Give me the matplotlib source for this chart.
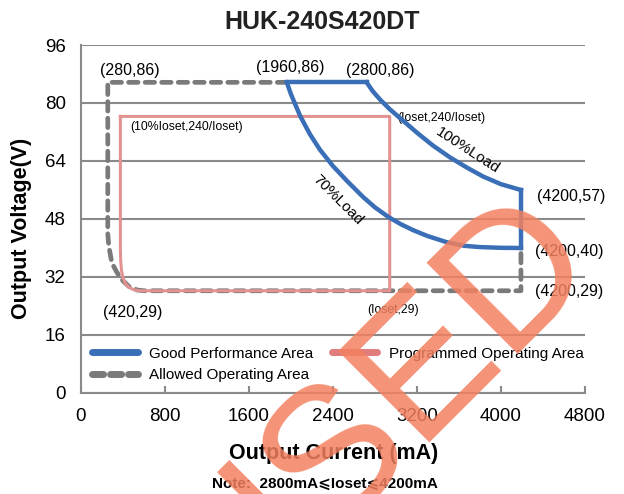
import matplotlib
matplotlib.use("Agg")
import matplotlib.pyplot as plt
from matplotlib.lines import Line2D

plt.rcParams['font.family'] = ['Liberation Sans', 'DejaVu Sans']

# Good performance area (blue): top edge, 100% load curve, right edge, 70% load curve
good_top_i = [1960, 2720]
good_top_v = [85.7, 85.7]
load100_i = [2720, 2780, 2850, 2940, 3020, 3100, 3200, 3350, 3514, 3680, 3831, 4000, 4190]
load100_v = [85.7, 83.2, 80.9, 78.3, 76.3, 74.3, 71.8, 68.3, 65.0, 62.1, 59.7, 57.6, 56.0]
good_right_i = [4190, 4190]
good_right_v = [56.0, 40.0]
load70_i = [1960, 2000, 2086, 2180, 2276, 2400, 2530, 2689, 2800, 2930, 3050, 3165,
            3300, 3483, 3650, 3800, 4000, 4190]
load70_v = [85.7, 82.4, 76.5, 71.4, 67.1, 62.6, 58.6, 54.0, 51.2, 48.5, 46.5, 44.9,
            43.3, 41.6, 40.6, 40.25, 40.05, 40.0]

# Allowed operating area (gray dashed)
allowed_i = [1960, 255, 255, 265, 288, 310, 338, 370, 408, 460, 537, 600, 4190, 4190]
allowed_v = [85.7, 85.7, 44.0, 40.5, 36.8, 35.0, 33.5, 32.0, 30.7, 29.3, 28.4, 28.2, 28.2, 40.0]

# Programmed operating area (pink)
prog_i = [375, 2940, 2940, 560, 500, 455, 420, 398, 385, 378, 375, 375]
prog_v = [76.3, 76.3, 28.2, 28.2, 28.5, 29.2, 30.3, 31.9, 34.0, 36.5, 39.5, 76.3]

x_ticks = [0, 800, 1600, 2400, 3200, 4000, 4800]
y_ticks = [0, 16, 32, 48, 64, 80, 96]

blue = '#3A6FB7'
pink = '#E39292'
gray = '#7A7A7A'
grid = '#8A8A8A'

fig = plt.figure(figsize=(6.24, 4.94), dpi=100)
ax = fig.add_axes([0.1298, 0.2045, 0.8077, 0.7044])

ax.set_xlim(0, 4800)
ax.set_ylim(0, 96)
ax.set_xticks(x_ticks)
ax.set_yticks(y_ticks)
ax.tick_params(axis='x', direction='in', length=5, width=1.5, color=grid,
               labelsize=13.5, pad=11)
ax.tick_params(axis='y', length=0, labelsize=13.5, pad=11)
for s in ['top', 'right']:
    ax.spines[s].set_visible(False)
for s in ['left', 'bottom']:
    ax.spines[s].set_color(grid)
    ax.spines[s].set_linewidth(1.5)
ax.yaxis.grid(True, color=grid, linewidth=1.5)
ax.set_axisbelow(True)

dash = dict(color=gray, lw=3.4, linestyle=(0, (2.0, 1.5)),
            dash_capstyle='round', solid_capstyle='round')
ax.plot(allowed_i, allowed_v, **dash, zorder=2)
ax.plot(prog_i, prog_v, color=pink, lw=2.2, zorder=3)
for xs, ys in [(good_top_i, good_top_v), (load100_i, load100_v),
               (good_right_i, good_right_v), (load70_i, load70_v)]:
    ax.plot(xs, ys, color=blue, lw=3.2, zorder=4, solid_joinstyle='miter')

fs = 11.5
ax.text(467, 89.1, '(280,86)', fontsize=fs, ha='center', va='center')
ax.text(1990, 89.9, '(1960,86)', fontsize=fs, ha='center', va='center')
ax.text(2848, 89.1, '(2800,86)', fontsize=fs, ha='center', va='center')
ax.text(467, 73.4, '(10%Ioset,240/Ioset)', fontsize=8.8, ha='left', va='center')
ax.text(3010, 75.9, '(Ioset,240/Ioset)', fontsize=8.8, ha='left', va='center')
ax.text(3686, 67.0, '100%Load', fontsize=11, ha='center', va='center',
        rotation=-33, rotation_mode='anchor')
ax.text(2448, 53.2, '70%Load', fontsize=11, ha='center', va='center',
        rotation=-45, rotation_mode='anchor')
ax.text(4343, 54.1, '(4200,57)', fontsize=fs, ha='left', va='center')
ax.text(4324, 39.0, '(4200,40)', fontsize=fs, ha='left', va='center')
ax.text(4324, 28.1, '(4200,29)', fontsize=fs, ha='left', va='center')
ax.text(495, 22.3, '(420,29)', fontsize=fs, ha='center', va='center')
ax.text(2971, 22.9, '(Ioset,29)', fontsize=8.8, ha='center', va='center')

handles = [
    Line2D([], [], color=blue, lw=5, solid_capstyle='round'),
    Line2D([], [], color=gray, lw=5, linestyle=(0, (1.6, 1.0)), dash_capstyle='round'),
    Line2D([], [], color='#E07C7C', lw=5, solid_capstyle='round'),
]
labels = ['Good Performance Area', 'Allowed Operating Area', 'Programmed Operating Area']
ax.legend(handles, labels, loc='lower left', bbox_to_anchor=(0.0, 0.0), ncol=2,
          frameon=False, fontsize=11, handlelength=3.0, handletextpad=0.75,
          columnspacing=1.2, labelspacing=0.5, borderaxespad=0.3)

fig.text(0.516, 0.955, 'HUK-240S420DT', fontsize=18, fontweight='bold',
         ha='center', va='center', color='#222222')
fig.text(0.534, 0.081, 'Output Current (mA)', fontsize=15.5, fontweight='bold',
         ha='center', va='center')
fig.text(0.035, 0.538, 'Output Voltage(V)', fontsize=15.5, fontweight='bold',
         ha='center', va='center', rotation=90)
fig.text(0.52, 0.02, 'Note:  2800mA\u2a7dIoset\u2a7d4200mA', fontsize=11,
         fontweight='bold', ha='center', va='center',
         family=['Liberation Sans', 'DejaVu Sans'])

# watermark
fig.text(0.611, 0.174, 'USED', fontsize=135, rotation=45, ha='center', va='center',
         color='#F3805F', alpha=0.85, zorder=10)

fig.savefig('out.png', dpi=100)
